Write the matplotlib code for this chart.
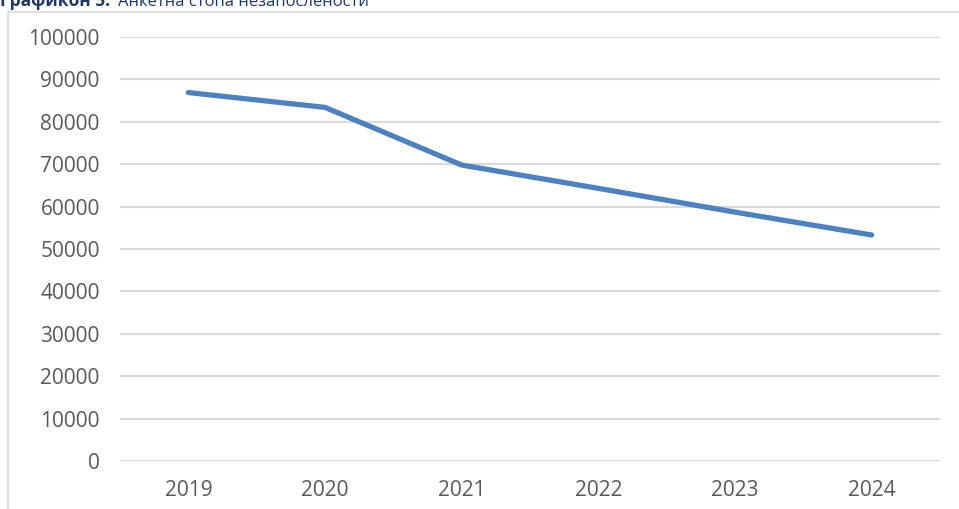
import matplotlib.pyplot as plt
from matplotlib.patches import Rectangle

years = ['2019', '2020', '2021', '2022', '2023', '2024']
values = [86900, 83400, 69800, 64300, 58700, 53300]
y_ticks = [0, 10000, 20000, 30000, 40000, 50000, 60000, 70000, 80000, 90000, 100000]

plt.rcParams['font.family'] = ['Open Sans', 'DejaVu Sans']

fig = plt.figure(figsize=(9.59, 5.09), dpi=100)
ax = fig.add_axes([120/959, 1 - 461/509, 820/959, 424/509])

# outer chart border (cut off by the image edges like the screenshot)
fig.patches.append(Rectangle((8/959, -0.1), 1.2, 1 - 12/509 + 0.1, transform=fig.transFigure,
                             fill=False, edgecolor='#d9d9d9', linewidth=1.2))

ax.plot(range(len(years)), values, color='#4f81bd', linewidth=3.8,
        solid_capstyle='round', solid_joinstyle='round', zorder=3)

ax.set_xlim(-0.5, len(years) - 0.5)
ax.set_ylim(0, 100000)
ax.set_yticks(y_ticks)
ax.set_yticklabels([str(v) for v in y_ticks])
ax.set_xticks(range(len(years)))
ax.set_xticklabels(years)
ax.grid(axis='y', color='#d9d9d9', linewidth=1.5)
ax.set_axisbelow(True)
for s in ax.spines.values():
    s.set_visible(False)
ax.tick_params(length=0, labelsize=15, labelcolor='#595959')
ax.tick_params(axis='y', pad=14.5)
ax.tick_params(axis='x', pad=14)

# title, mostly cropped at the top edge
fig.text(0.0, 1 - 6/509, 'Графикон 5:', fontsize=12.5, fontweight='bold',
         color='#1f3864', va='baseline', ha='left')
fig.text(118/959, 1 - 6/509, 'Анкетна стопа незапослености', fontsize=12,
         color='#1f3864', va='baseline', ha='left')

fig.savefig('out.png', dpi=100)
